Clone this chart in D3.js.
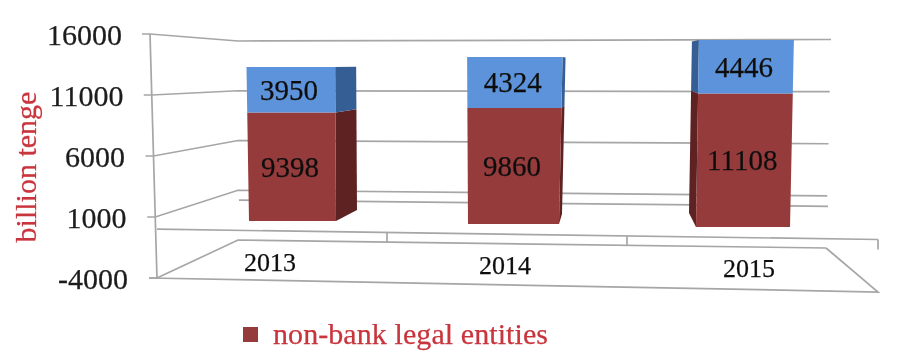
<!DOCTYPE html>
<html>
<head>
<meta charset="utf-8">
<script src="https://cdn.jsdelivr.net/npm/d3@7"></script>
<style>
  html, body { margin: 0; padding: 0; background: #fff; }
  svg { display: block; }
  text { font-family: "Liberation Serif", serif; stroke: currentColor; stroke-width: 0.25; }
</style>
</head>
<body>
<svg id="chart" width="924" height="352"></svg>
<script>
var years = [2013, 2014, 2015];
var nonBank = [9398, 9860, 11108];
var other = [3950, 4324, 4446];
var ticks = [16000, 11000, 6000, 1000, -4000];
var yTitle = 'billion tenge';
var legendLabel = 'non-bank legal entities';

var svg = d3.select('#chart');

svg.append('defs').append('filter')
  .attr('id', 'soft')
  .append('feGaussianBlur')
  .attr('stdDeviation', 0.45);

var root = svg.append('g').attr('filter', 'url(#soft)');

// wall and floor scales, one per edge of the tilted box
var vDomain = [-4000, 16000],
  frontY = d3.scaleLinear().domain(vDomain).range([278, 34]),
  backLeftY = d3.scaleLinear().domain(vDomain).range([240, 41]),
  backRightY = d3.scaleLinear().domain(vDomain).range([248, 39.5]),
  axisX = d3.scaleLinear().domain(vDomain).range([157, 150]),
  backRightX = d3.scaleLinear().domain(vDomain).range([826, 831]),
  labelRight = d3.scaleLinear().domain(vDomain).range([128, 122]),
  floorFrontY = d3.scaleLinear().domain([157, 878]).range([frontY(0), 239.5]);

// column scales: the columns sit at slightly different depths
var yearScale = (a, b, c) => d3.scaleLinear().domain(years).range([a, b, c]),
  baseY = yearScale(221, 224, 227),
  topY = yearScale(36.4, 35.6, 34.6),
  leftTop = yearScale(246, 467, 699),
  leftBase = yearScale(249, 468, 696),
  rightTop = yearScale(335, 563, 794),
  rightBase = yearScale(336, 559, 790),
  sideDx = yearScale(21, 3, -7),
  sideDyBase = yearScale(-11, -10, -14),
  sideDyTop = yearScale(2, 2, 2),
  labelStart = yearScale(244, 479, 723),
  labelBase = yearScale(271, 274, 277);

var line = d3.line();
var gridColor = '#a6a6a6';

function stroke(pts, w) {
  root.append('path')
    .attr('d', line(pts))
    .attr('fill', 'none')
    .attr('stroke', gridColor)
    .attr('stroke-width', w || 1.7);
}

// value gridlines across the left wall and the back wall
ticks.forEach(v => {
  stroke([
    [axisX(v) - 8, frontY(v)],
    [axisX(v), frontY(v)],
    [238, backLeftY(v)],
    [backRightX(v), backRightY(v)]
  ]);
});

stroke([[axisX(16000), frontY(16000)], [axisX(-4000), frontY(-4000)]]);

// floor at zero
stroke([[157, floorFrontY(157)], [878, floorFrontY(878)]]);
stroke([[239, backLeftY(0)], [828, backRightY(0)]]);
[387, 627, 878].forEach(x => {
  stroke([[x, floorFrontY(x)], [x, floorFrontY(x) + 10]]);
});

// lower plate
stroke([
  [axisX(-4000) - 8, frontY(-4000)],
  [878, 292],
  [backRightX(-4000), backRightY(-4000)]
]);

// stacked columns
var stackData = years.map((y, i) => ({year: y, nonBank: nonBank[i], other: other[i]}));
var stack = d3.stack().keys(['nonBank', 'other']);
var colors = {
  nonBank: {front: '#963a3a', side: '#5f2222'},
  other: {front: '#5c93da', side: '#355f94'}
};

function colY(year) {
  return d3.scaleLinear().domain([0, 16000]).range([baseY(year), topY(year)]);
}

function edge(year, a, b) {
  return d3.scaleLinear().domain([0, 16000]).range([a(year), b(year)]);
}

stack(stackData).forEach(layer => {
  layer.forEach(seg => {
    var year = seg.data.year,
      y = colY(year),
      xl = edge(year, leftBase, leftTop),
      xr = edge(year, rightBase, rightTop),
      dy = edge(year, sideDyBase, sideDyTop),
      dx = sideDx(year),
      sideEdge = dx > 0 ? xr : xl,
      v0 = seg[0],
      v1 = seg[1];

    root.append('path')
      .attr('d', line([
        [sideEdge(v0), y(v0)],
        [sideEdge(v1), y(v1)],
        [sideEdge(v1) + dx, y(v1) + dy(v1)],
        [sideEdge(v0) + dx, y(v0) + dy(v0)]
      ]) + 'Z')
      .attr('fill', colors[layer.key].side);

    root.append('path')
      .attr('d', line([
        [xl(v0), y(v0)],
        [xl(v1), y(v1)],
        [xr(v1), y(v1)],
        [xr(v0), y(v0)]
      ]) + 'Z')
      .attr('fill', colors[layer.key].front);

    root.append('text')
      .attr('x', (xl((v0 + v1) / 2) + xr((v0 + v1) / 2)) / 2 - 2)
      .attr('y', y((v0 + v1) / 2) + 10)
      .attr('text-anchor', 'middle')
      .attr('font-size', 29)
      .style('color', '#111')
      .attr('fill', '#111')
      .text(v1 - v0);
  });
});

// value axis labels
root.selectAll('.tick-label')
  .data(ticks)
  .enter()
  .append('text')
  .attr('class', 'tick-label')
  .attr('x', d => labelRight(d))
  .attr('y', d => frontY(d) + 10.5)
  .attr('text-anchor', 'end')
  .attr('font-size', 30)
  .style('color', '#1c1c1c')
  .attr('fill', '#1c1c1c')
  .text(d => d);

// year labels on the plate
root.selectAll('.year-label')
  .data(years)
  .enter()
  .append('text')
  .attr('class', 'year-label')
  .attr('x', d => labelStart(d))
  .attr('y', d => labelBase(d))
  .attr('font-size', 26)
  .style('color', '#111')
  .attr('fill', '#111')
  .text(d => d);

root.append('text')
  .attr('transform', 'translate(36,167) rotate(-90)')
  .attr('text-anchor', 'middle')
  .attr('font-size', 30)
  .style('color', '#c8343c')
  .attr('fill', '#c8343c')
  .text(yTitle);

root.append('rect')
  .attr('x', 243)
  .attr('y', 327)
  .attr('width', 15)
  .attr('height', 15)
  .attr('fill', colors.nonBank.front);

root.append('text')
  .attr('x', 273)
  .attr('y', 344)
  .attr('font-size', 30)
  .attr('textLength', 275)
  .style('color', '#c8343c')
  .attr('fill', '#c8343c')
  .text(legendLabel);
</script>
</body>
</html>
